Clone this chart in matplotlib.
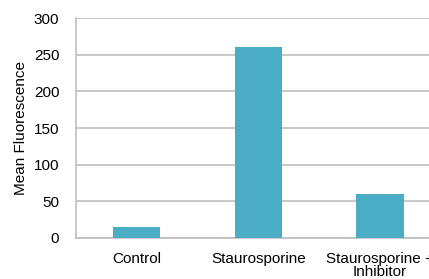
import matplotlib

matplotlib.use("Agg")
import matplotlib.pyplot as plt

categories = ["Control", "Staurosporine", "Staurosporine +\nInhibitor"]
values = [15, 260, 60]
y_ticks = [0, 50, 100, 150, 200, 250, 300]

plt.rcParams["font.family"] = ["Liberation Sans", "DejaVu Sans"]
plt.rcParams["font.size"] = 11

fig = plt.figure(figsize=(4.29, 2.79), dpi=100)
ax = fig.add_axes([0.177, 0.147, 0.85, 0.788])

x = range(len(categories))
ax.bar(x, values, width=0.39, color="#4BACC6", zorder=3)
ax.set_xlim(-0.5, 2.5)
ax.set_ylim(0, 300)
ax.set_yticks(y_ticks)
ax.set_xticks(list(x), categories, linespacing=0.95)
ax.grid(axis="y", color="#BFBFBF", linewidth=1.2, zorder=0)
ax.tick_params(length=0, colors="black", labelsize=11)
ax.tick_params(axis="y", pad=12)
ax.tick_params(axis="x", pad=10)
for side in ("top", "right"):
    ax.spines[side].set_visible(False)
for side in ("left", "bottom"):
    ax.spines[side].set_color("#BFBFBF")
    ax.spines[side].set_linewidth(1.2)
ax.set_ylabel("Mean Fluorescence", labelpad=4)

fig.savefig("out.png", dpi=100)
